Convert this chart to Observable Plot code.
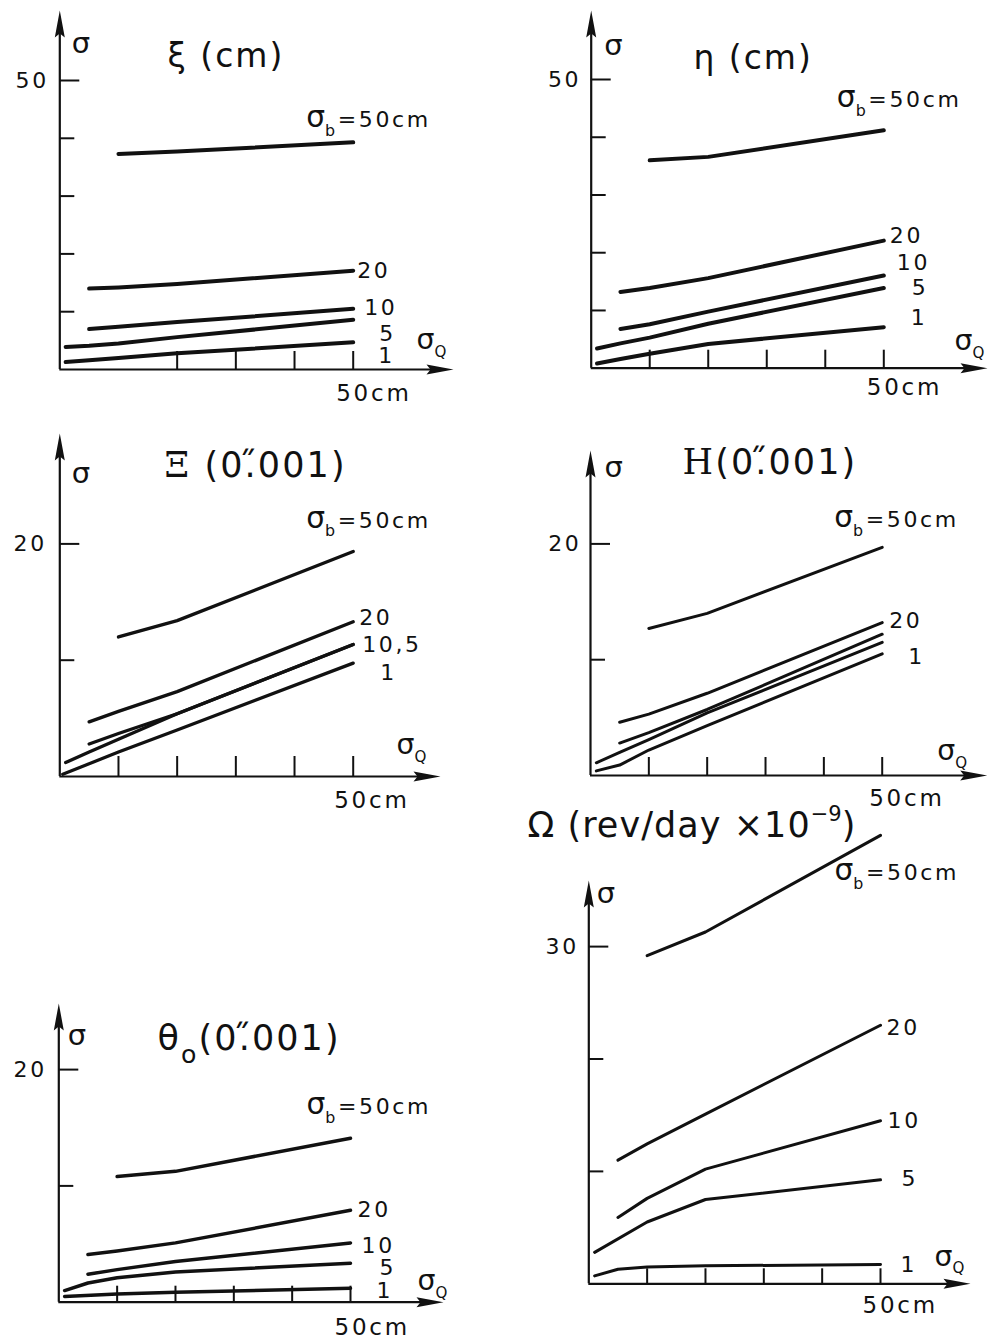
<!DOCTYPE html>
<html><head><meta charset="utf-8">
<script src="https://cdn.jsdelivr.net/npm/d3@7"></script>
<script src="https://cdn.jsdelivr.net/npm/@observablehq/plot@0.6"></script>
<style>
body{margin:0;background:#fff;}
#fig{position:relative;width:988px;height:1340px;background:#fff;overflow:hidden;}
#fig svg{position:absolute;overflow:visible;background:transparent;}
</style></head><body><div id="fig"></div>
<script>
// σ_b values (cm) of the curves
const sigmaB = [50, 20, 10, 5, 1];

// ξ (cm): [σQ (cm), σ]
const xiCurves = {
  50: [[10,37.3],[20,37.7],[50,39.3]],
  20: [[5,14.0],[10,14.2],[20,14.8],[50,17.1]],
  10: [[5,7.0],[10,7.4],[20,8.2],[50,10.5]],
  5:  [[1,3.9],[5,4.1],[10,4.5],[20,5.6],[50,8.6]],
  1:  [[1,1.3],[5,1.6],[10,2.0],[20,2.8],[50,4.7]]
};
// η (cm)
const etaCurves = {
  50: [[10,36.0],[20,36.6],[50,41.2]],
  20: [[5,13.2],[10,13.9],[20,15.6],[50,22.1]],
  10: [[5,6.8],[10,7.6],[20,9.8],[50,16.05]],
  5:  [[1,3.4],[5,4.3],[10,5.3],[20,7.7],[50,13.9]],
  1:  [[1,0.8],[5,1.6],[10,2.5],[20,4.2],[50,7.1]]
};
// Ξ (0".001)
const XiCurves = {
  50: [[10,12.0],[20,13.4],[50,19.35]],
  20: [[5,4.7],[10,5.6],[20,7.3],[50,13.3]],
  10: [[5,2.8],[10,3.7],[20,5.4],[50,11.35]],
  5:  [[1,1.2],[5,2.1],[10,3.2],[20,5.4],[50,11.35]],
  1:  [[0.5,0.2],[5,1.1],[10,2.1],[20,4.0],[50,9.75]]
};
// Η (0".001)
const HCurves = {
  50: [[10,12.7],[20,14.0],[50,19.7]],
  20: [[5,4.6],[10,5.3],[20,7.1],[50,13.2]],
  10: [[5,2.8],[10,3.7],[20,5.7],[50,12.2]],
  5:  [[1,1.1],[5,2.0],[10,3.1],[20,5.4],[50,11.5]],
  1:  [[1,0.4],[5,0.9],[10,2.2],[20,4.3],[50,10.5]]
};
// θo (0".001)
const thetaCurves = {
  50: [[10,10.8],[20,11.25],[50,14.1]],
  20: [[5,4.1],[10,4.4],[20,5.1],[50,7.9]],
  10: [[5,2.4],[10,2.8],[20,3.5],[50,5.1]],
  5:  [[1,1.0],[5,1.65],[10,2.1],[20,2.6],[50,3.35]],
  1:  [[1,0.5],[10,0.7],[20,0.85],[50,1.2]]
};
// Ω (rev/day × 10^-9)
const OmegaCurves = {
  50: [[10,29.2],[20,31.3],[50,39.9]],
  20: [[5,11.0],[10,12.45],[20,15.1],[50,23.0]],
  10: [[5,5.9],[10,7.6],[20,10.2],[50,14.5]],
  5:  [[1,2.8],[10,5.5],[20,7.5],[50,9.25]],
  1:  [[1,0.7],[5,1.3],[10,1.5],[20,1.6],[50,1.72]]
};

// tick values
const xTicksXi = [20, 30, 40, 50];
const xTicksStd = [10, 20, 30, 40, 50];
const yTicksCm = [10, 20, 30, 40, 50];
const yTicksArc = [10, 20];
const yTicksOmega = [10, 20, 30];

// label texts (markup: +{} enlarged, _{} subscript, ^{} superscript, S{} serif)
const bLabel = "+{σ}_{b}=50cm";
const qLabel = "+{σ}_{Q}";
const arcUnit = "(0.\u030B001)";

// ---------- layout (page pixels) ----------
const FONT = "DejaVu Sans";
const panels = [
  {curves: xiCurves, title: "ξ (cm)", titleAt: [167, 56], titleSize: 33,
   box: [0, 0, 494, 410], origin: [59.3, 369], k: [5.868, 5.78], arrow: [453, 10],
   xTicks: xTicksXi, yTicks: yTicksCm, yLabel: 50, tickDx: -11, xTickLen: 18, lw: 4,
   sigma: [12, 33], q: [-37, -27], cm: [-17, 24],
   labels: {50: [bLabel, -47, -22], 20: ["20", 4, 0], 10: ["10", 11, -1], 5: ["5", 26, 14], 1: ["1", 25, 14]}},
  {curves: etaCurves, title: "η (cm)", titleAt: [199, 58], titleSize: 33,
   box: [494, 0, 494, 410], origin: [590.7, 367.7], k: [5.852, 5.774], arrow: [987, 10],
   xTicks: xTicksStd, yTicks: yTicksCm, yLabel: 50, tickDx: -10, xTickLen: 18, lw: 4,
   sigma: [13, 35], q: [-33, -25], cm: [-17, 19],
   labels: {50: [bLabel, -47, -30], 20: ["20", 6, -5], 10: ["10", 13, -13], 5: ["5", 28, 0], 1: ["1", 27, -9]}},
  {curves: XiCurves, title: "S{Ξ} " + arcUnit, titleAt: [164, 55], titleSize: 35,
   box: [0, 410, 494, 410], origin: [59.3, 776], k: [5.868, 11.63], arrow: [440, 433],
   xTicks: xTicksStd, yTicks: yTicksArc, yLabel: 20, tickDx: -13, xTickLen: 20, lw: 3.3,
   sigma: [12, 40], q: [-44, -29], cm: [-19, 24],
   labels: {50: [bLabel, -47, -31], 20: ["20", 6, -4], 10: ["10,5", 9, 0], 1: ["1", 27, 10]}},
  {curves: HCurves, title: "S{Η}" + arcUnit, titleAt: [188, 52], titleSize: 35,
   box: [494, 410, 494, 400], origin: [590, 775], k: [5.834, 11.58], arrow: [986.7, 450],
   xTicks: xTicksStd, yTicks: yTicksArc, yLabel: 20, tickDx: -9, xTickLen: 18, lw: 3,
   sigma: [14, 17], q: [-50, -22], cm: [-13, 23],
   labels: {50: [bLabel, -48, -27], 20: ["20", 7, -2], 1: ["1", 26, 3]}},
  {curves: thetaCurves, title: "θ_{o}" + arcUnit, titleAt: [157, 48], titleSize: 35,
   box: [0, 990, 494, 350], origin: [58.3, 1301.7], k: [5.834, 11.63], arrow: [443, 1003],
   xTicks: xTicksStd, yTicks: yTicksArc, yLabel: 20, tickDx: -12, xTickLen: 16, lw: 3.5,
   sigma: [9, 32], q: [-26, -19], cm: [-16, 25],
   labels: {50: [bLabel, -44, -31], 20: ["20", 7, 0], 10: ["10", 11, 3], 5: ["5", 29, 5], 1: ["1", 26, 3]}},
  {curves: OmegaCurves, title: "Ω (rev/day ×10^{−9})", titleAt: [33, 15], titleSize: 35,
   box: [494, 810, 494, 530], origin: [588.3, 1283.3], k: [5.834, 11.24], arrow: [970, 880],
   xTicks: xTicksStd, yTicks: yTicksOmega, yLabel: 30, tickDx: -10, xTickLen: 15, lw: 3,
   sigma: [8, 13], q: [-36, -25], cm: [-18, 22],
   labels: {50: [bLabel, -46, 38], 20: ["20", 6, 3], 10: ["10", 7, 0], 5: ["5", 21, -1], 1: ["1", 20, 0]}}
];

const arrowUp = {draw(ctx) { ctx.moveTo(0, 0); ctx.lineTo(-5, 27); ctx.lineTo(0, 23); ctx.lineTo(5, 27); ctx.closePath(); }};
const arrowRight = {draw(ctx) { ctx.moveTo(0, 0); ctx.lineTo(-27, -5); ctx.lineTo(-23, 0); ctx.lineTo(-27, 5); ctx.closePath(); }};

function makePanel(cfg) {
  const [left, top, w, h] = cfg.box;
  const [ox, oy] = cfg.origin;
  const [kx, ky] = cfg.k;
  const X = (px) => (px - ox) / kx;
  const Y = (py) => (oy - py) / ky;
  const xEnd = X(cfg.arrow[0]);
  const yEnd = Y(cfg.arrow[1]);
  const rows = [];
  for (const b of sigmaB) {
    const pts = cfg.curves[b];
    if (!pts) continue;
    for (const [x, y] of pts) rows.push({b, x, y});
  }
  const txt = {fontFamily: FONT, fill: "#111", textAnchor: "start", lineAnchor: "middle"};
  const marks = [
    Plot.ruleY([0], {x1: 0, x2: xEnd - 10 / kx, stroke: "#111", strokeWidth: 2.2}),
    Plot.ruleX([0], {y1: 0, y2: yEnd - 10 / ky, stroke: "#111", strokeWidth: 2.2}),
    Plot.dot([0], {x: xEnd, y: 0, r: 5, symbol: arrowRight, fill: "#111", stroke: "none"}),
    Plot.dot([0], {x: 0, y: yEnd, r: 5, symbol: arrowUp, fill: "#111", stroke: "none"}),
    Plot.ruleX(cfg.xTicks, {x: (d) => d, y1: 0, y2: cfg.xTickLen / ky, stroke: "#111", strokeWidth: 2}),
    Plot.ruleY(cfg.yTicks, {y: (d) => d, x1: 0, x2: (d) => (d === cfg.yLabel ? 20 : 15) / kx, stroke: "#111", strokeWidth: 2}),
    Plot.line(rows, {x: "x", y: "y", z: "b", stroke: "#111", strokeWidth: cfg.lw, strokeLinecap: "round", strokeLinejoin: "round"}),
    Plot.text([cfg.yLabel], {...txt, x: 0, y: (d) => d, text: (d) => String(d), dx: cfg.tickDx, textAnchor: "end", fontSize: 22}),
    Plot.text(["σ"], {...txt, x: 0, y: yEnd, text: (d) => d, dx: cfg.sigma[0], dy: cfg.sigma[1], fontSize: 29}),
    Plot.text([qLabel], {...txt, x: xEnd, y: 0, text: (d) => d, dx: cfg.q[0], dy: cfg.q[1], fontSize: 21}),
    Plot.text(["50cm"], {...txt, x: 50, y: 0, text: (d) => d, dx: cfg.cm[0], dy: cfg.cm[1], fontSize: 23}),
    Plot.text([cfg.title], {...txt, frameAnchor: "top-left", text: (d) => d, dx: cfg.titleAt[0], dy: cfg.titleAt[1], fontSize: cfg.titleSize})
  ];
  for (const b of sigmaB) {
    const lab = cfg.labels[b];
    const pts = cfg.curves[b];
    if (!lab || !pts) continue;
    const end = pts[pts.length - 1];
    marks.push(Plot.text([end], {...txt, x: (d) => d[0], y: (d) => d[1], text: () => lab[0], dx: lab[1], dy: lab[2], fontSize: 22}));
  }
  const svg = Plot.plot({
    width: w, height: h,
    marginLeft: 0, marginRight: 0, marginTop: 0, marginBottom: 0,
    x: {type: "linear", domain: [X(left), X(left + w)], axis: null},
    y: {type: "linear", domain: [Y(top + h), Y(top)], axis: null},
    style: {background: "transparent", overflow: "visible", maxWidth: "none"},
    marks
  });
  svg.style.left = left + "px";
  svg.style.top = top + "px";
  return svg;
}

const NS = "http://www.w3.org/2000/svg";
function richify(root) {
  root.querySelectorAll("text").forEach((t) => {
    const s = t.textContent;
    // letter spacing like the stencil lettering of the original
    const ls = s.startsWith("Ω") ? "0.03em" : s.includes("(") ? "0.06em" : s === "σ" ? "0" : "0.12em";
    t.setAttribute("letter-spacing", ls);
    if (!/[_^+S]\{/.test(s)) return;
    const fs = parseFloat(getComputedStyle(t).fontSize) || 20;
    while (t.firstChild) t.removeChild(t.firstChild);
    let shift = 0;
    const seg = (str, target, size, ls2, fam) => {
      if (!str) return;
      const sp = document.createElementNS(NS, "tspan");
      sp.textContent = str;
      const d = target - shift;
      if (d !== 0) sp.setAttribute("dy", d);
      if (size) sp.setAttribute("font-size", size);
      if (ls2 != null) sp.setAttribute("letter-spacing", ls2);
      if (fam) sp.setAttribute("font-family", fam);
      shift = target;
      t.appendChild(sp);
    };
    const re = /([_^+S])\{([^}]*)\}/g;
    let last = 0, m;
    while ((m = re.exec(s))) {
      seg(s.slice(last, m.index), 0);
      if (m[1] === "_") seg(m[2], 0.38 * fs, 0.72 * fs);
      else if (m[1] === "^") seg(m[2], -0.45 * fs, 0.6 * fs, "0");
      else if (m[1] === "S") seg(m[2], 0, null, null, "DejaVu Serif");
      else seg(m[2], 0, 1.35 * fs, "0");
      last = re.lastIndex;
    }
    seg(s.slice(last), 0);
  });
}

const fig = document.getElementById("fig");
for (const cfg of panels) fig.appendChild(makePanel(cfg));
richify(fig);
</script>
</body></html>
